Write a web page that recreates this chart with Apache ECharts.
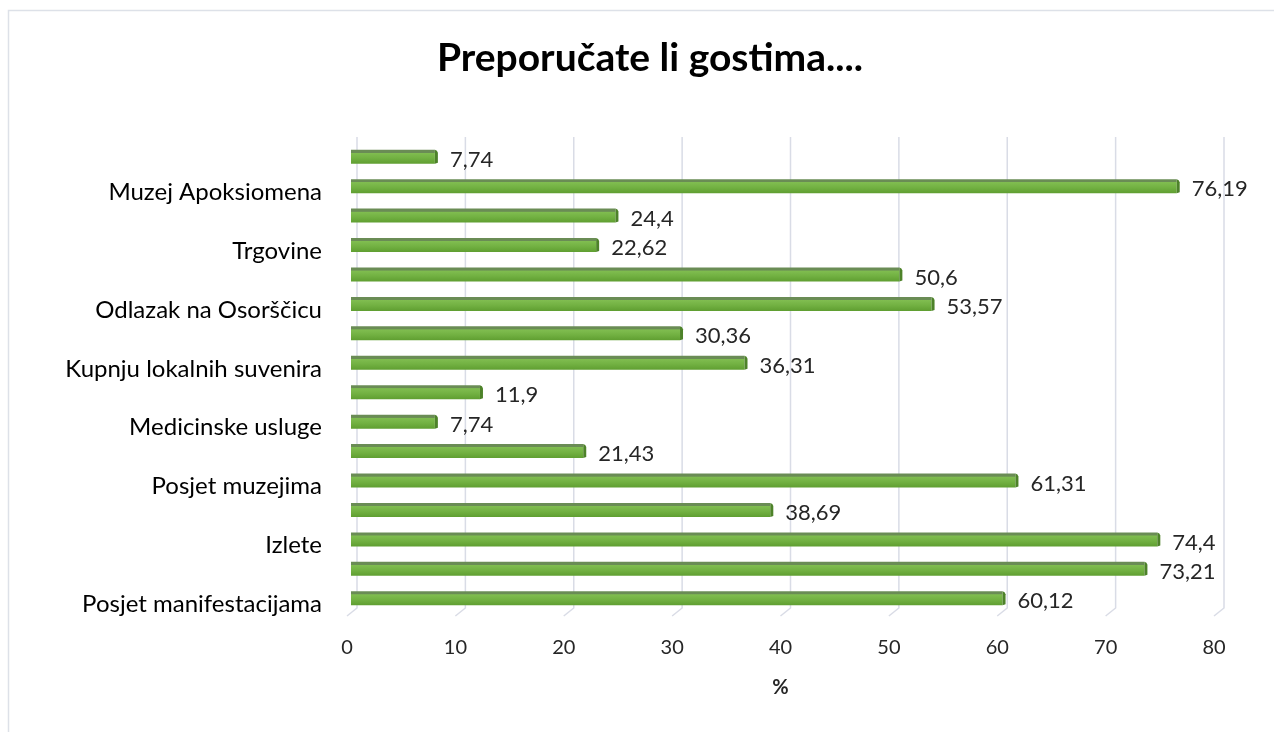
<!DOCTYPE html>
<html>
<head>
<meta charset="utf-8">
<script src="https://cdn.jsdelivr.net/npm/echarts@6/dist/echarts.min.js"></script>
<style>
  html, body { margin: 0; padding: 0; background: #fff; }
  #chart { width: 1274px; height: 732px; }
</style>
</head>
<body>
<div id="chart"></div>
<script>
// Categories listed bottom to top; only every other bar carries a name
const categories = [
  'Posjet manifestacijama', '', 'Izlete', '', 'Posjet muzejima', '',
  'Medicinske usluge', '', 'Kupnju lokalnih suvenira', '', 'Odlazak na Osorščicu', '',
  'Trgovine', '', 'Muzej Apoksiomena', ''
];
const values = [60.12, 73.21, 74.4, 38.69, 61.31, 21.43, 7.74, 11.9, 36.31, 30.36, 53.57, 50.6, 22.62, 24.4, 76.19, 7.74];
const xTicks = [0, 10, 20, 30, 40, 50, 60, 70, 80];
const titleText = 'Preporučate li gostima....';
const xAxisName = '%';

const FONT = 'Lato, "Open Sans", sans-serif';
const fmt = v => String(v).replace('.', ',');

const chart = echarts.init(document.getElementById('chart'), null, { renderer: 'canvas' });

const barFill = new echarts.graphic.LinearGradient(0, 0, 0, 1, [
  { offset: 0, color: '#6a8c55' },
  { offset: 0.2, color: '#6a8c55' },
  { offset: 0.24, color: '#80bd50' },
  { offset: 0.6, color: '#72b142' },
  { offset: 1, color: '#5f9e31' }
]);

chart.setOption({
  animation: false,
  backgroundColor: '#ffffff',
  title: {
    text: titleText,
    left: 645,
    top: 34,
    textAlign: 'center',
    textStyle: { fontFamily: FONT, fontSize: 39, fontWeight: 'bold', color: '#000' }
  },
  graphic: [{
    type: 'rect',
    shape: { x: 8.5, y: 10.5, width: 1300, height: 800 },
    style: { fill: 'none', stroke: '#dde1e8', lineWidth: 1.5 },
    z: -10
  }],
  grid: { left: 354, top: 142, width: 867, height: 471, containLabel: false },
  xAxis: {
    type: 'value',
    min: 0, max: 80, interval: 10,
    axisLine: { show: false },
    axisTick: { show: false },
    splitLine: { show: false },
    axisLabel: {
      margin: 25,
      fontFamily: FONT, fontSize: 20, color: '#262626',
      padding: [0, 14, 0, 0],
      formatter: v => xTicks.includes(v) ? String(v) : ''
    },
    name: xAxisName,
    nameLocation: 'middle',
    nameGap: 65,
    nameTextStyle: { fontFamily: FONT, fontSize: 20, fontWeight: 'bold', color: '#262626', padding: [0, 14, 0, 0] }
  },
  yAxis: {
    type: 'category',
    data: categories,
    axisLine: { show: false },
    axisTick: { show: false },
    splitLine: { show: false },
    axisLabel: {
      interval: 0,
      margin: 32,
      formatter: v => v ? '{c|' + v + '}' : '',
      rich: {
        c: { fontFamily: FONT, fontSize: 24, color: '#000', padding: [12, 0, 0, 0] }
      }
    }
  },
  series: [
    {
      // back-wall gridlines with their floor edges
      type: 'custom',
      silent: true,
      clip: false,
      z: 1,
      data: xTicks.map(t => [t, 0]),
      encode: { x: 0, y: 1 },
      renderItem: (params, api) => {
        const cs = params.coordSys;
        const x = api.coord([api.value(0), 0])[0] + 3;
        const top = cs.y - 5;
        const floor = cs.y + cs.height - 5;
        return {
          type: 'polyline',
          shape: { points: [[x, top], [x, floor], [x - 10, floor + 8]] },
          style: { stroke: '#d9dce6', lineWidth: 1.5, fill: null }
        };
      }
    },
    {
      // bars with a darker top band and a bevelled end cap
      type: 'custom',
      clip: false,
      z: 2,
      data: values.map((v, i) => [v, i]),
      encode: { x: 0, y: 1 },
      renderItem: (params, api) => {
        const v = api.value(0), i = api.value(1);
        const p0 = api.coord([0, i]);
        const p1 = api.coord([v, i]);
        const h = 14;
        const y = p0[1] - h / 2;
        const x0 = p0[0] - 3;
        const x1 = p1[0];
        return {
          type: 'group',
          children: [
            {
              type: 'rect',
              shape: { x: x0, y: y, width: Math.max(0, x1 - 3 - x0), height: h },
              style: { fill: barFill }
            },
            {
              type: 'polygon',
              shape: { points: [[x1 - 3, y], [x1 - 1, y + 1], [x1, y + 3], [x1, y + h - 1], [x1 - 3, y + h]] },
              style: { fill: '#4d8229' }
            },
            {
              type: 'text',
              style: {
                text: fmt(v),
                x: x1 + 12,
                y: p0[1] + 3,
                verticalAlign: 'middle',
                align: 'left',
                fontFamily: FONT,
                fontSize: 22,
                fill: '#262626'
              }
            }
          ]
        };
      }
    }
  ]
});
</script>
</body>
</html>
